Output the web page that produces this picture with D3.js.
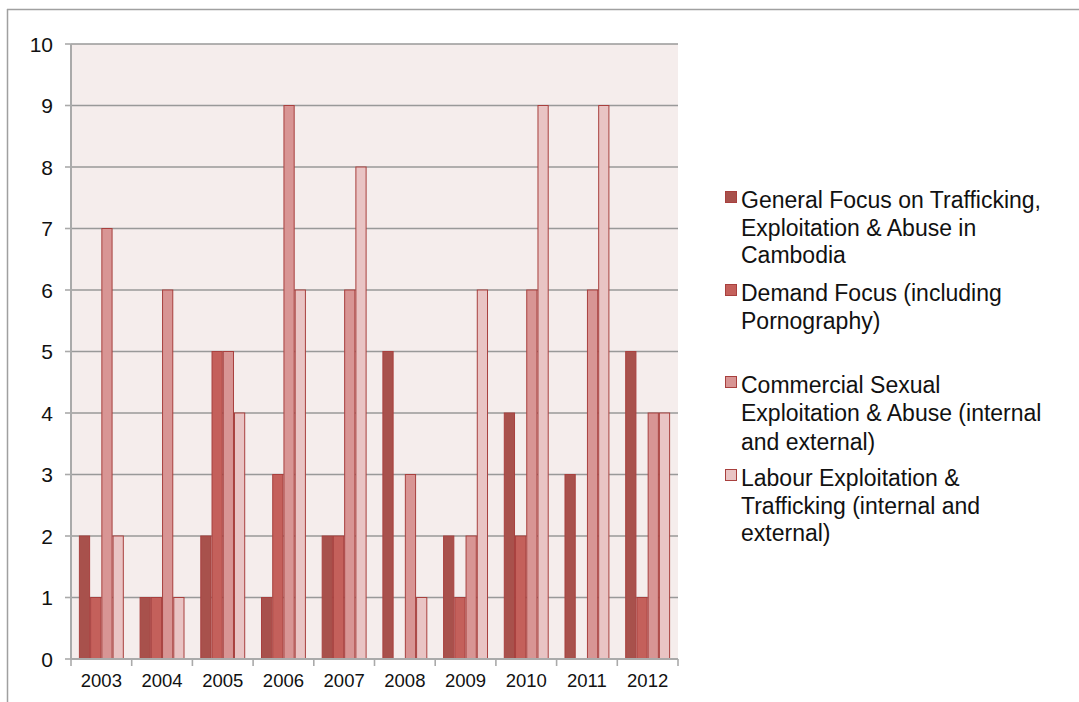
<!DOCTYPE html>
<html>
<head>
<meta charset="utf-8">
<style>
body { margin: 0; background: white; }
text { font-family: "Liberation Sans", Arial, Helvetica, sans-serif; fill: #111; }
</style>
<script src="https://d3js.org/d3.v7.min.js"></script>
</head>
<body>
<div id="chart"></div>
<script>
var years = ["2003", "2004", "2005", "2006", "2007", "2008", "2009", "2010", "2011", "2012"];
var seriesNames = [
    ["General Focus on Trafficking,", "Exploitation & Abuse in", "Cambodia"],
    ["Demand Focus (including", "Pornography)"],
    ["Commercial Sexual", "Exploitation & Abuse (internal", "and external)"],
    ["Labour Exploitation &", "Trafficking (internal and", "external)"]
];
var generalFocus = [2, 1, 2, 1, 2, 5, 2, 4, 3, 5];
var demandFocus = [1, 1, 5, 3, 2, 0, 1, 2, 0, 1];
var commercialSexual = [7, 6, 5, 9, 6, 3, 2, 6, 6, 4];
var labourExploitation = [2, 1, 4, 6, 8, 1, 6, 9, 9, 4];
var yTicks = [0, 1, 2, 3, 4, 5, 6, 7, 8, 9, 10];

var colors = ["#a8514c", "#c4605b", "#d89594", "#e9c4c4"];
var allSeries = [generalFocus, demandFocus, commercialSexual, labourExploitation];

var W = 1079, H = 702;
var plotL = 71, plotR = 678, plotT = 44, plotB = 659;

var svg = d3.select("#chart").append("svg")
    .attr("width", W).attr("height", H);

// outer frame (top and left edges only visible)
svg.append("line").attr("x1", 7).attr("x2", W).attr("y1", 9.5).attr("y2", 9.5)
    .attr("stroke", "#a0a0a0").attr("stroke-width", 1.5);
svg.append("line").attr("x1", 7.5).attr("x2", 7.5).attr("y1", 9).attr("y2", H)
    .attr("stroke", "#a0a0a0").attr("stroke-width", 1.5);

var x0 = d3.scaleBand().domain(years).range([plotL, plotR])
    .paddingInner(0.26).paddingOuter(0.13);
var x1 = d3.scaleBand().domain(d3.range(4)).range([0, x0.bandwidth()]);
var xb = d3.scaleLinear().domain([0, years.length]).range([plotL, plotR]);
var y = d3.scaleLinear().domain([0, 10]).range([plotB, plotT]);

svg.append("rect").attr("x", plotL).attr("y", plotT)
    .attr("width", plotR - plotL).attr("height", plotB - plotT)
    .attr("fill", "#f5edec");

// gridlines
svg.append("g").selectAll("line").data(yTicks.slice(1)).enter().append("line")
    .attr("x1", plotL).attr("x2", plotR)
    .attr("y1", function(d) { return y(d); }).attr("y2", function(d) { return y(d); })
    .attr("stroke", "#999").attr("stroke-width", 1.6);

// bars
var groups = svg.append("g").selectAll("g").data(years).enter().append("g")
    .attr("transform", function(d) { return "translate(" + x0(d) + ",0)"; });
groups.selectAll("rect")
    .data(function(d, i) { return allSeries.map(function(s, k) { return {k: k, v: s[i]}; }); })
    .enter().append("rect")
    .filter(function(d) { return d.v > 0; })
    .attr("x", function(d) { return x1(d.k) + 0.5; })
    .attr("y", function(d) { return y(d.v); })
    .attr("width", x1.bandwidth() - 1)
    .attr("height", function(d) { return y(0) - y(d.v); })
    .attr("fill", function(d) { return colors[d.k]; })
    .attr("stroke", "#a8403e").attr("stroke-width", 1);

// y axis
svg.append("line").attr("x1", plotL).attr("x2", plotL).attr("y1", plotT).attr("y2", plotB + 1)
    .attr("stroke", "#aaa").attr("stroke-width", 2);
svg.append("g").selectAll("line").data(yTicks).enter().append("line")
    .attr("x1", plotL - 6).attr("x2", plotL)
    .attr("y1", function(d) { return y(d); }).attr("y2", function(d) { return y(d); })
    .attr("stroke", "#aaa").attr("stroke-width", 1.6);
svg.append("g").selectAll("text").data(yTicks).enter().append("text")
    .attr("x", 53).attr("y", function(d) { return y(d); })
    .attr("dy", "0.36em").attr("text-anchor", "end")
    .attr("font-size", "21px")
    .text(function(d) { return d; });

// x axis
svg.append("line").attr("x1", plotL).attr("x2", plotR).attr("y1", plotB).attr("y2", plotB)
    .attr("stroke", "#aaa").attr("stroke-width", 2);
svg.append("g").selectAll("line").data(d3.range(years.length + 1)).enter().append("line")
    .attr("x1", function(d) { return xb(d); }).attr("x2", function(d) { return xb(d); })
    .attr("y1", plotB).attr("y2", plotB + 7)
    .attr("stroke", "#aaa").attr("stroke-width", 1.6);
svg.append("g").selectAll("text").data(years).enter().append("text")
    .attr("x", function(d) { return x0(d) + x0.bandwidth() / 2; })
    .attr("y", 687)
    .attr("text-anchor", "middle")
    .attr("font-size", "18.5px")
    .text(function(d) { return d; });

// legend
var legendTops = [200, 293, 385, 478];
var lineH = 27.5;
var legend = svg.append("g").selectAll("g").data(seriesNames).enter().append("g");
legend.append("rect")
    .attr("x", 725.5).attr("y", function(d, i) { return legendTops[i] - 8.5; })
    .attr("width", 11).attr("height", 11)
    .attr("fill", function(d, i) { return colors[i]; })
    .attr("stroke", "#a8403e").attr("stroke-width", 1);
legend.each(function(lines, i) {
    var t = d3.select(this).append("text")
        .attr("x", 741).attr("font-size", "23px");
    lines.forEach(function(l, j) {
        t.append("tspan").attr("x", 741)
            .attr("y", legendTops[i] + j * lineH + (i == 2 && j == 2 ? 2 : 0))
            .attr("dy", "0.36em")
            .text(l);
    });
});
</script>
</body>
</html>
